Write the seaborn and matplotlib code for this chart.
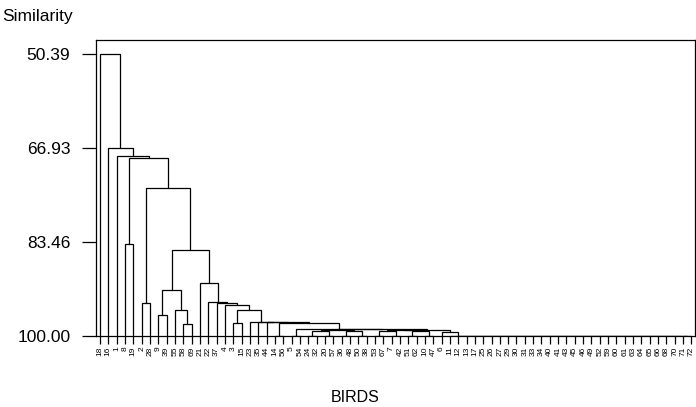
"""Dendrogram of bird similarity (single figure)."""
import matplotlib

matplotlib.use("Agg")
import matplotlib.pyplot as plt
import seaborn as sns

# leaf order along the x axis
birds = [18, 16, 1, 8, 19, 2, 28, 9, 39, 55, 58, 69, 21, 22, 37, 4, 3, 15, 23, 35,
         44, 14, 56, 5, 54, 24, 32, 20, 57, 36, 48, 50, 38, 53, 67, 7, 42, 51, 62, 10,
         47, 6, 11, 12, 13, 17, 25, 26, 27, 29, 30, 31, 33, 34, 40, 41, 43, 45, 46, 49,
         52, 59, 60, 61, 63, 64, 65, 66, 68, 70, 71, 72]

# joins: (new cluster, member a, member b, similarity level)
joins = [
    ("a1", 58, 69, 97.90),
    ("a2", 55, "a1", 95.34),
    ("a3", 9, 39, 96.24),
    ("a4", "a3", "a2", 91.88),
    ("b1", 2, 28, 94.27),
    ("b2", 8, 19, 83.82),
    ("c1", 3, 15, 97.72),
    ("p1", 5, 54, 100.0),
    ("p2", 24, 32, 100.0),
    ("p3", 20, 57, 100.0),
    ("p4", 36, 48, 100.0),
    ("p5", 50, 38, 100.0),
    ("p6", 53, 67, 100.0),
    ("p7", 7, 42, 100.0),
    ("p8", 51, 62, 100.0),
    ("p9", 10, 47, 100.0),
    ("q1", "p2", "p3", 99.20),
    ("q2", "p4", "p5", 99.20),
    ("q3", "p6", "p7", 99.10),
    ("q4", "p8", "p9", 99.10),
    ("r1", "q1", "q2", 98.95),
    ("r2", "q3", "q4", 98.95),
    ("z1", 71, 72, 100.0),
    ("z2", 70, "z1", 100.0),
    ("z3", 68, "z2", 100.0),
    ("z4", 66, "z3", 100.0),
    ("z5", 65, "z4", 100.0),
    ("z6", 64, "z5", 100.0),
    ("z7", 63, "z6", 100.0),
    ("z8", 61, "z7", 100.0),
    ("z9", 60, "z8", 100.0),
    ("z10", 59, "z9", 100.0),
    ("z11", 52, "z10", 100.0),
    ("z12", 49, "z11", 100.0),
    ("z13", 46, "z12", 100.0),
    ("z14", 45, "z13", 100.0),
    ("z15", 43, "z14", 100.0),
    ("z16", 41, "z15", 100.0),
    ("z17", 40, "z16", 100.0),
    ("z18", 34, "z17", 100.0),
    ("z19", 33, "z18", 100.0),
    ("z20", 31, "z19", 100.0),
    ("z21", 30, "z20", 100.0),
    ("z22", 29, "z21", 100.0),
    ("z23", 27, "z22", 100.0),
    ("z24", 26, "z23", 100.0),
    ("z25", 25, "z24", 100.0),
    ("z26", 17, "z25", 100.0),
    ("z27", 13, "z26", 100.0),
    ("z28", 12, "z27", 100.0),
    ("z29", 11, "z28", 100.0),
    ("s1", 6, "z29", 99.23),
    ("r3", "r2", "s1", 98.90),
    ("v", "r1", "r3", 98.85),
    ("w", "p1", "v", 98.80),
    ("k1", 14, 56, 100.0),
    ("k2", "k1", "w", 97.65),
    ("k3", 44, "k2", 97.60),
    ("k4", 35, "k3", 97.55),
    ("k5", 23, "k4", 97.50),
    ("d", "c1", "k5", 95.39),
    ("e1", 4, "d", 94.53),
    ("e2", 37, "e1", 94.23),
    ("e3", 22, "e2", 94.00),
    ("e4", 21, "e3", 90.68),
    ("f1", "a4", "e4", 84.82),
    ("f2", "b1", "f1", 73.94),
    ("f3", "b2", "f2", 68.69),
    ("f4", 1, "f3", 68.30),
    ("f5", 16, "f4", 66.93),
    ("top", 18, "f5", 50.39),
]

sim_ticks = [50.39, 66.93, 83.46, 100.00]


def setup_style():
    sns.set_style("white")
    plt.rcParams["font.family"] = ["Liberation Sans", "DejaVu Sans"]
    plt.rcParams["text.color"] = "black"
    plt.rcParams["xtick.color"] = "black"
    plt.rcParams["ytick.color"] = "black"


def plot_dendrogram(out):
    setup_style()
    fig = plt.figure(figsize=(6.96, 4.07), dpi=100)
    ax = fig.add_axes([96 / 696, 1 - 336 / 407, 599 / 696, 296.3 / 407])

    pos = {b: i for i, b in enumerate(birds)}
    level = {b: 100.0 for b in birds}
    for name, a, b, s in joins:
        xa, xb = pos[a], pos[b]
        ax.plot([xa, xa, xb, xb], [level[a], s, s, level[b]],
                color="black", lw=0.9, solid_joinstyle="miter")
        pos[name] = (xa + xb) / 2
        level[name] = s

    ax.set_xlim(-0.48, 71.43)
    ax.set_ylim(100, 47.86)
    ax.set_xticks(range(len(birds)))
    ax.set_xticklabels([str(b) for b in birds], rotation=90, fontsize=6)
    ax.set_yticks(sim_ticks)
    ax.set_yticklabels([f"{t:.2f}" for t in sim_ticks], fontsize=12.5)
    ax.tick_params(axis="x", bottom=True, direction="out", length=6, width=0.9, pad=1.5)
    ax.tick_params(axis="y", left=True, direction="out", length=10, width=0.9, pad=8.5)
    for sp in ax.spines.values():
        sp.set_visible(True)
        sp.set_color("black")
        sp.set_linewidth(0.9)

    fig.text(2 / 696, 1 - 17 / 407, "Similarity", fontsize=12.5, ha="left", va="center")
    fig.text(355 / 696, 1 - 397 / 407, "BIRDS", fontsize=11.5, ha="center", va="center")
    fig.savefig(out, dpi=100)
    plt.close(fig)


plot_dendrogram("out.png")
